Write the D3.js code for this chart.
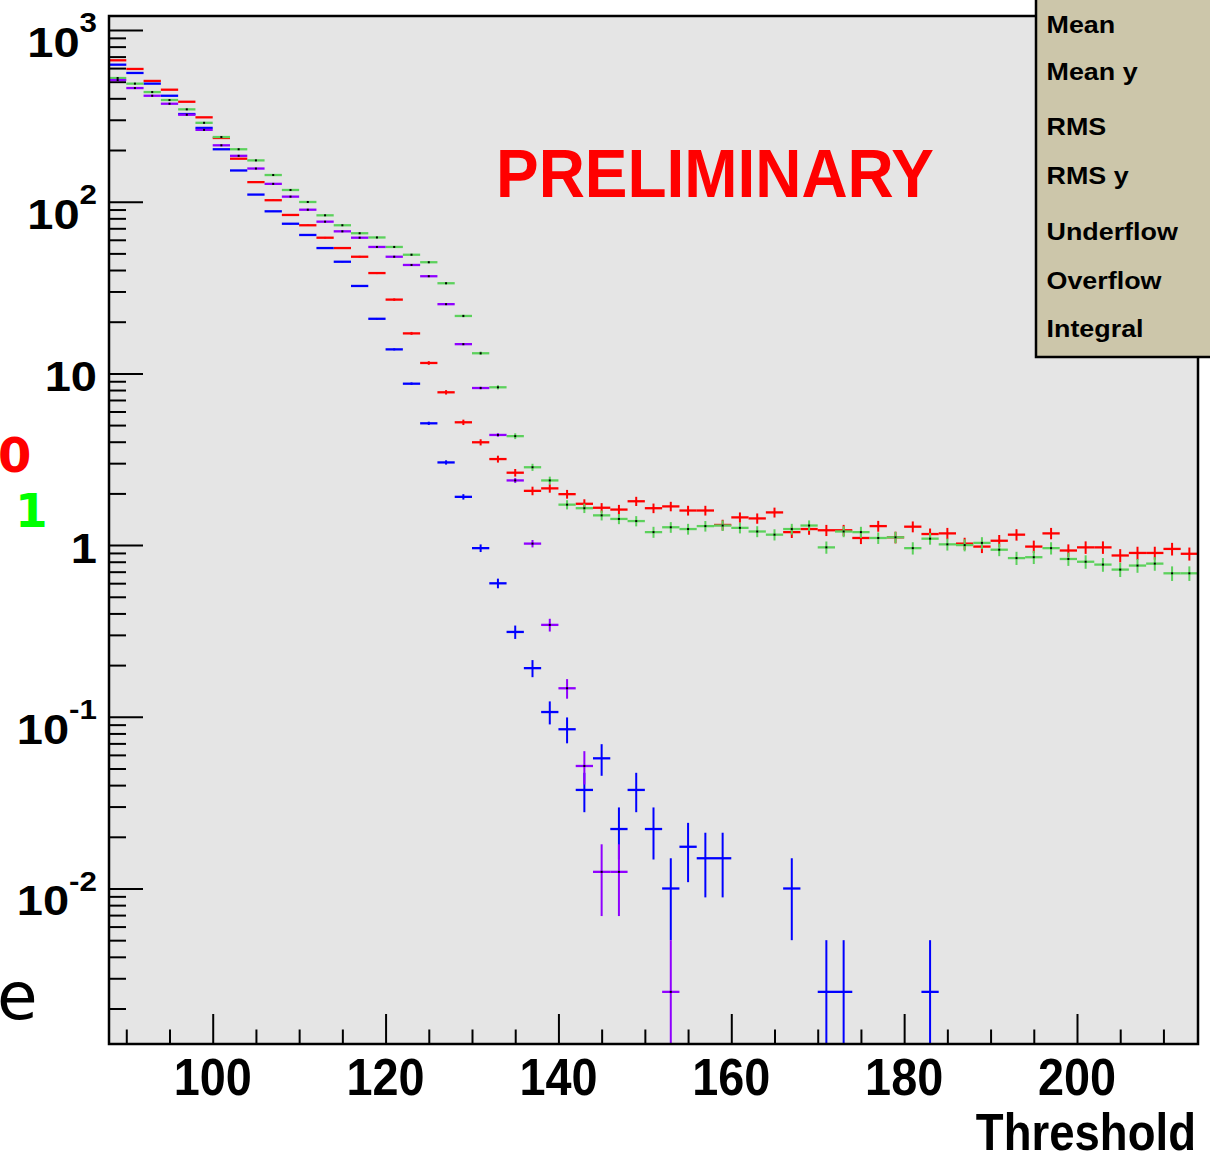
<!DOCTYPE html>
<html>
<head>
<meta charset="utf-8">
<script src="https://cdn.jsdelivr.net/npm/d3@7"></script>
<style>
body { margin: 0; background: #fff; }
svg { display: block; }
</style>
</head>
<body>
<div id="chart"></div>
<script>
// histogram binning: 63 bins of width 2 starting at 88
const binStart = 88;
const binWidth = 2;

// bin contents, bins centred at 89, 91, ..., 213 (null = empty bin)
const red = [666, 593, 505, 449, 382, 310, 235, 178, 130, 102,
    83.7, 72.9, 61.7, 53.7, 47.8, 38.4, 26.9, 17.1, 11.5, 7.76,
    5.19, 3.97, 3.17, 2.64, 2.07, 2.14, 1.98, 1.74, 1.65, 1.61,
    1.80, 1.64, 1.68, 1.59, 1.59, 1.31, 1.45, 1.43, 1.55, 1.19,
    1.24, 1.22, 1.22, 1.10, 1.29, 1.11, 1.28, 1.16, 1.17, 1.02,
    0.98, 1.06, 1.15, 0.98, 1.17, 0.93, 0.97, 0.97, 0.87, 0.90,
    0.90, 0.95, 0.89];
const blue = [628, 562, 487, 414, 324, 269, 202, 152, 110, 87.9,
    74.4, 64.0, 53.7, 44.7, 32.3, 20.8, 13.8, 8.71, 5.12, 3.03,
    1.91, 0.96, 0.599, 0.312, 0.192, 0.1066, 0.0846, 0.0375, 0.0573, 0.0222,
    0.0375, 0.0222, 0.01, 0.0175, 0.015, 0.015, null, null, null, 0.01,
    null, 0.0025, 0.0025, null, null, null, null, 0.0025, null, null,
    null, null, null, null, null, null, null, null, null, null,
    null, null, null];
const green = [525, 487, 435, 391, 345, 288, 238, 202, 174, 143,
    117, 99.6, 83.3, 72.9, 65.5, 61.9, 54.5, 49.1, 44.4, 33.5,
    21.6, 13.1, 8.30, 4.31, 2.84, 2.38, 1.72, 1.64, 1.49, 1.42,
    1.38, 1.19, 1.27, 1.24, 1.29, 1.30, 1.26, 1.20, 1.15, 1.24,
    1.30, 0.97, 1.20, 1.19, 1.10, 1.11, 0.96, 1.09, 1.01, 1.00,
    1.03, 0.94, 0.84, 0.85, 0.96, 0.83, 0.80, 0.77, 0.72, 0.76,
    0.78, 0.685, 0.685];
const purple = [511, 459, 414, 372, 321, 262, 213, 185, 156, 127,
    107, 89.8, 76.5, 67.2, 61.7, 54.5, 47.8, 42.8, 36.8, 25.3,
    14.8, 8.22, 4.38, 2.38, 1.02, 0.343, 0.1466, 0.0517, 0.0125, 0.0125,
    null, null, 0.0025, null, null, null, null, null, null, null,
    null, null, null, null, null, null, null, null, null, null,
    null, null, null, null, null, null, null, null, null, null,
    null, null, null];

// event weight of each histogram (error = sqrt(content * weight))
const series = [
    {name: "red", values: red, color: "#ff0000", weight: 0.0068, dot: false},
    {name: "blue", values: blue, color: "#0000ff", weight: 0.0025, dot: false},
    {name: "green", values: green, color: "#5cd15c", weight: 0.0065, dot: true},
    {name: "purple", values: purple, color: "#8f00ff", weight: 0.0025, dot: true}
];

const xTickLabels = [100, 120, 140, 160, 180, 200];
const yTickLabels = [
    {v: 1000, base: "10", exp: "3"},
    {v: 100, base: "10", exp: "2"},
    {v: 10, base: "10", exp: null},
    {v: 1, base: "1", exp: null},
    {v: 0.1, base: "10", exp: "-1"},
    {v: 0.01, base: "10", exp: "-2"}
];
const statLabels = ["Mean", "Mean y", "RMS", "RMS y", "Underflow", "Overflow", "Integral"];

function drawChart() {
    const W = 1210, H = 1151;
    const left = 109, right = 1198, top = 16, bottom = 1044;
    const svg = d3.select("#chart").append("svg").attr("width", W).attr("height", H)
        .style("font-family", "'Liberation Sans', Arial, Helvetica, sans-serif");
    svg.append("rect").attr("width", W).attr("height", H).attr("fill", "#fff");

    const x = d3.scaleLinear().domain([88, 214]).range([left, right]);
    const y = d3.scaleLog().domain([Math.pow(10, -2.9057), Math.pow(10, 3.0815)]).range([bottom, top]);

    svg.append("rect").attr("x", left).attr("y", top).attr("width", right - left).attr("height", bottom - top)
        .attr("fill", "#e5e5e5");

    // ticks
    const majorX = xTickLabels;
    const minorX = d3.range(90, 214, 5).filter(v => v % 20 !== 0);
    const gx = svg.append("g").attr("transform", `translate(0,${bottom})`);
    gx.append("g").call(d3.axisBottom(x).tickValues(majorX).tickSize(-30).tickFormat(""));
    gx.append("g").call(d3.axisBottom(x).tickValues(minorX).tickSize(-14.5).tickFormat(""));
    gx.selectAll(".domain").remove();
    gx.selectAll("line").attr("stroke", "#000").attr("stroke-width", 2);

    const majorY = yTickLabels.map(d => d.v);
    const minorY = [];
    [-3, -2, -1, 0, 1, 2].forEach(e => { for (let m = 2; m <= 9; m++) minorY.push(m * Math.pow(10, e)); });
    const yMin = y.domain()[0], yMax = y.domain()[1];
    const gy = svg.append("g").attr("transform", `translate(${left},0)`);
    gy.append("g").call(d3.axisLeft(y).tickValues(majorY).tickSize(-34).tickFormat(""));
    gy.append("g").call(d3.axisLeft(y).tickValues(minorY.filter(v => v > yMin && v < yMax)).tickSize(-17).tickFormat(""));
    gy.selectAll(".domain").remove();
    gy.selectAll("line").attr("stroke", "#000").attr("stroke-width", 2);

    // data
    svg.append("clipPath").attr("id", "plotclip").append("rect")
        .attr("x", left).attr("y", top).attr("width", right - left).attr("height", bottom - top);
    const plot = svg.append("g").attr("clip-path", "url(#plotclip)");

    series.forEach(s => {
        const pts = s.values.map((v, i) => ({
            lo: binStart + i * binWidth, hi: binStart + (i + 1) * binWidth,
            c: binStart + (i + 0.5) * binWidth, v: v
        })).filter(d => d.v !== null);
        const g = plot.append("g").attr("stroke", s.color).attr("fill", "none");
        g.selectAll("line.h").data(pts).join("line").attr("class", "h")
            .attr("x1", d => x(d.lo)).attr("x2", d => x(d.hi))
            .attr("y1", d => y(d.v)).attr("y2", d => y(d.v))
            .attr("stroke-width", 2.3);
        g.selectAll("line.v").data(pts).join("line").attr("class", "v")
            .attr("x1", d => x(d.c)).attr("x2", d => x(d.c))
            .attr("y1", d => y(d.v + Math.sqrt(d.v * s.weight)))
            .attr("y2", d => {
                const low = d.v - Math.sqrt(d.v * s.weight);
                return low > yMin ? y(low) : bottom + 5;
            })
            .attr("stroke-width", 2);
        if (s.dot) {
            plot.append("g").selectAll("rect").data(pts).join("rect")
                .attr("x", d => x(d.c) - 1).attr("y", d => y(d.v) - 1)
                .attr("width", 2).attr("height", 2).attr("fill", "#000");
        }
    });

    // frame
    svg.append("rect").attr("x", left).attr("y", top).attr("width", right - left).attr("height", bottom - top)
        .attr("fill", "none").attr("stroke", "#000").attr("stroke-width", 2.5);

    // x labels
    xTickLabels.forEach(v => {
        svg.append("g").attr("transform", `translate(${x(v)},1095) scale(0.9,1)`)
            .append("text").attr("text-anchor", "middle").attr("font-size", 52).attr("font-weight", "bold")
            .text(v);
    });
    svg.append("g").attr("transform", "translate(1196,1150) scale(0.876,1)")
        .append("text").attr("text-anchor", "end").attr("font-size", 52).attr("font-weight", "bold")
        .text("Threshold");

    // y labels
    yTickLabels.forEach(d => {
        const base = y(d.v) + (d.exp ? 27 : 18);
        const t = svg.append("g").attr("transform", `translate(97,${base}) scale(1.12,1)`)
            .append("text").attr("text-anchor", "end").attr("font-weight", "bold").attr("font-size", 42);
        t.append("tspan").text(d.base);
        if (d.exp) t.append("tspan").attr("dy", -25).attr("font-size", 28).text(d.exp);
    });

    svg.append("g").attr("transform", "translate(715,197) scale(0.94,1)")
        .append("text").attr("text-anchor", "middle").attr("font-size", 68).attr("font-weight", "bold")
        .attr("fill", "#ff0000").text("PRELIMINARY");

    // stats box
    svg.append("rect").attr("x", 1036).attr("y", -5).attr("width", 200).attr("height", 362)
        .attr("fill", "#ccc6aa").attr("stroke", "#000").attr("stroke-width", 2.5);
    const statBase = [33, 80, 135, 184, 240, 289, 337];
    statLabels.forEach((s, i) => {
        svg.append("g").attr("transform", `translate(1046.5,${statBase[i]}) scale(1.12,1)`)
            .append("text").attr("font-size", 24).attr("font-weight", "bold").text(s);
    });

    // pieces of the legend cut off at the left edge
    const legend = svg.append("g").style("font-family", "'DejaVu Sans', sans-serif");
    legend.append("text").attr("x", -2).attr("y", 472).attr("font-size", 48).attr("font-weight", "bold")
        .attr("fill", "#ff0000").text("0");
    legend.append("text").attr("x", 15).attr("y", 527).attr("font-size", 47).attr("font-weight", "bold")
        .attr("fill", "#00ff00").text("1");
    legend.append("text").attr("x", -3).attr("y", 1019).attr("font-size", 66)
        .attr("fill", "#000").text("e");
}

document.addEventListener("DOMContentLoaded", () => {
    drawChart();
});
</script>
</body>
</html>
